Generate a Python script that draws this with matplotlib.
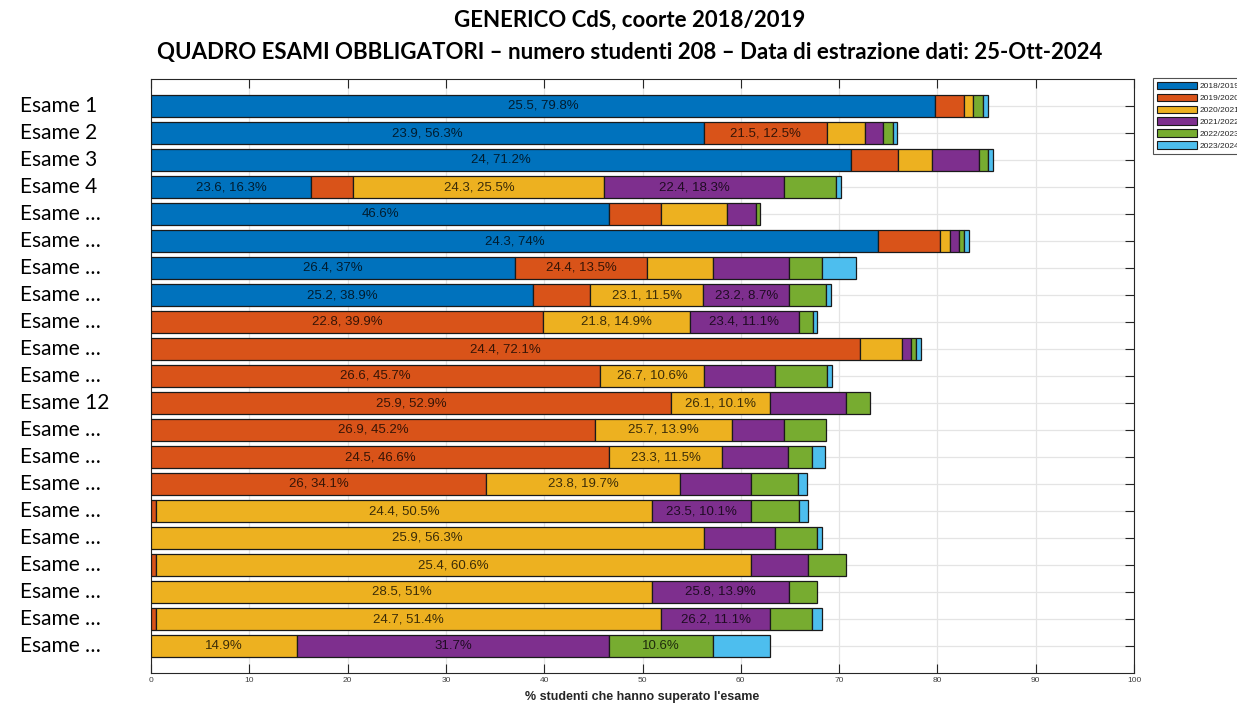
import numpy as np
import matplotlib
matplotlib.use("Agg")
import matplotlib.pyplot as plt
from matplotlib.patches import Patch
from matplotlib.transforms import blended_transform_factory

# ---------------- data ----------------
exams = ["Esame 1", "Esame 2", "Esame 3", "Esame 4"] + ["Esame …"] * 7 + ["Esame 12"] + ["Esame …"] * 9
cohorts = ["2018/2019", "2019/2020", "2020/2021", "2021/2022", "2022/2023", "2023/2024"]
colors = ["#0072BD", "#D95319", "#EDB120", "#7E2F8E", "#77AC30", "#4DBEEE"]

# % of students passing the exam, per academic year (cohort columns)
pct_1819 = [79.8, 56.3, 71.2, 16.3, 46.6, 74.0, 37.0, 38.9, 0, 0, 0, 0, 0, 0, 0, 0, 0, 0, 0, 0, 0]
pct_1920 = [2.9, 12.5, 4.8, 4.3, 5.3, 6.3, 13.5, 5.8, 39.9, 72.1, 45.7, 52.9, 45.2, 46.6, 34.1, 0.48, 0, 0.48, 0, 0.48, 0]
pct_2021 = [0.96, 3.8, 3.4, 25.5, 6.7, 0.96, 6.7, 11.5, 14.9, 4.3, 10.6, 10.1, 13.9, 11.5, 19.7, 50.5, 56.3, 60.6, 51.0, 51.4, 14.9]
pct_2122 = [0, 1.9, 4.8, 18.3, 2.9, 0.96, 7.7, 8.7, 11.1, 0.96, 7.2, 7.7, 5.3, 6.7, 7.2, 10.1, 7.2, 5.8, 13.9, 11.1, 31.7]
pct_2223 = [0.96, 0.96, 0.96, 5.3, 0.48, 0.48, 3.4, 3.8, 1.4, 0.48, 5.3, 2.4, 4.3, 2.4, 4.8, 4.8, 4.3, 3.8, 2.9, 4.3, 10.6]
pct_2324 = [0.48, 0.48, 0.48, 0.48, 0, 0.48, 3.4, 0.48, 0.48, 0.48, 0.48, 0, 0, 1.4, 0.96, 0.96, 0.48, 0, 0, 0.96, 5.8]

nan = np.nan
# mean grade of the students passing (shown in the label when available)
mean_1819 = [25.5, 23.9, 24, 23.6, nan, 24.3, 26.4, 25.2, nan, nan, nan, nan, nan, nan, nan, nan, nan, nan, nan, nan, nan]
mean_1920 = [nan, 21.5, nan, nan, nan, nan, 24.4, nan, 22.8, 24.4, 26.6, 25.9, 26.9, 24.5, 26, nan, nan, nan, nan, nan, nan]
mean_2021 = [nan, nan, nan, 24.3, nan, nan, nan, 23.1, 21.8, nan, 26.7, 26.1, 25.7, 23.3, 23.8, 24.4, 25.9, 25.4, 28.5, 24.7, nan]
mean_2122 = [nan, nan, nan, 22.4, nan, nan, nan, 23.2, 23.4, nan, nan, nan, nan, nan, nan, 23.5, nan, nan, 25.8, 26.2, nan]
mean_2223 = [nan] * 21
mean_2324 = [nan] * 21

pct_all = [pct_1819, pct_1920, pct_2021, pct_2122, pct_2223, pct_2324]
mean_all = [mean_1819, mean_1920, mean_2021, mean_2122, mean_2223, mean_2324]

title1 = "GENERICO CdS, coorte 2018/2019"
title2 = "QUADRO ESAMI OBBLIGATORI – numero studenti 208 – Data di estrazione dati: 25-Ott-2024"
xlabel = "% studenti che hanno superato l'esame"

# ---------------- figure ----------------
W, H = 1237, 704
fig = plt.figure(figsize=(W / 100, H / 100), dpi=100)
fig.patch.set_facecolor("white")
ax = fig.add_axes([151 / W, 1 - 673 / H, 983 / W, 594 / H])

y = np.arange(1, len(exams) + 1)
left = np.zeros(len(exams))
for vals, means, col in zip(pct_all, mean_all, colors):
    v = np.array(vals, dtype=float)
    m = v > 0
    ax.barh(y[m], v[m], left=left[m], height=0.78, color=col,
            edgecolor="#1a1a1a", linewidth=0.9, zorder=3)
    for i in range(len(v)):
        if v[i] >= 8:
            mv = means[i]
            txt = f"{v[i]:g}%" if np.isnan(mv) else f"{mv:g}, {v[i]:g}%"
            ax.text(left[i] + v[i] / 2, y[i], txt, ha="center", va="center",
                    fontsize=9.5, family="Liberation Sans", color="black",
                    alpha=0.75, zorder=4)
    left += v

ax.set_xlim(0, 100)
ax.set_ylim(22, 0)
ax.set_xticks(np.arange(0, 101, 10))
ax.set_yticks(y)
ax.set_yticklabels([])
ax.set_axisbelow(True)
ax.grid(True, color="#e4e4e4", linewidth=0.9, zorder=0)
ax.tick_params(axis="x", direction="in", top=True, bottom=True, length=6.5,
               width=0.8, color="#262626", labelsize=6, labelcolor="#404040", pad=3)
ax.tick_params(axis="y", direction="in", left=True, right=True, length=6.5,
               width=0.8, color="#262626")
for lab in ax.get_xticklabels():
    lab.set_family("Liberation Sans")
for s in ax.spines.values():
    s.set_color("#262626")
    s.set_linewidth(0.8)

# exam labels on the left
tr = blended_transform_factory(fig.transFigure, ax.transData)
for yi, name in zip(y, exams):
    fig.text(20 / W, yi, name, transform=tr, ha="left", va="center",
             fontsize=15, family="Lato", color="black")

# titles
fig.text(630 / W, 1 - 20 / H, title1, ha="center", va="center",
         fontsize=16, family="Lato", fontweight="bold")
fig.text(630 / W, 1 - 53 / H, title2, ha="center", va="center",
         fontsize=16, family="Lato", fontweight="bold")

# x label
ax.text(0.5, 1 - 697 / H, xlabel, transform=blended_transform_factory(ax.transAxes, fig.transFigure),
        ha="center", va="center", fontsize=9, family="Liberation Sans",
        fontweight="bold", color="#262626")

# legend
handles = [Patch(facecolor=c, edgecolor="#1a1a1a", linewidth=0.8) for c in colors]
leg = fig.legend(handles, cohorts, loc="upper left",
                 bbox_to_anchor=(1153 / W, 1 - 78 / H), bbox_transform=fig.transFigure,
                 prop={"family": "Liberation Sans", "size": 6},
                 handlelength=4.8, handleheight=1.0, handletextpad=0.3,
                 labelspacing=0.4, borderpad=0.45, borderaxespad=0,
                 frameon=True, fancybox=False)
leg.get_frame().set_edgecolor("#262626")
leg.get_frame().set_linewidth(0.8)
for t in leg.get_texts():
    t.set_color("#262626")

fig.savefig("out.png", dpi=100)
